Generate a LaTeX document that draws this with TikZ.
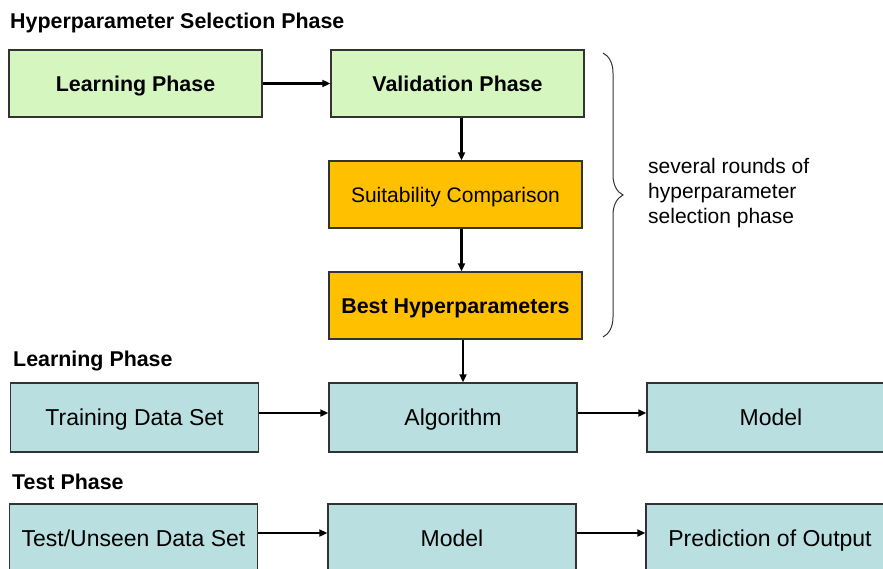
\documentclass[tikz,border=0pt]{standalone}
\usepackage{fontspec}
\setmainfont{Liberation Sans}
\usetikzlibrary{arrows.meta,decorations.pathreplacing}

\definecolor{boxgreen}{RGB}{214,246,192}
\definecolor{boxgold}{RGB}{255,192,0}
\definecolor{boxblue}{RGB}{185,223,225}

\begin{document}
\begin{tikzpicture}[x=1pt,y=-1pt,
  box/.style={draw=black!80,line width=1.4pt,inner sep=0pt,minimum width=253pt,minimum height=67pt,text depth=0pt},
  greenbox/.style={box,fill=boxgreen,text height=15.3pt,font=\fontsize{21.4}{25}\selectfont\bfseries},
  goldbox/.style={box,fill=boxgold,text height=15pt,font=\fontsize{21}{25}\selectfont},
  bluebox/.style={box,fill=boxblue,minimum width=248pt,minimum height=69pt,text height=16.5pt,font=\fontsize{23}{27}\selectfont},
  phase/.style={anchor=base west,inner sep=0pt,font=\fontsize{21.4}{25}\selectfont\bfseries},
  arr/.style={line width=2.2pt,-{Triangle[length=8pt,width=7pt]}}]
\useasboundingbox (0,0) rectangle (883,568);
\clip (0,0) rectangle (883,568);

% hyperparameter selection phase
\node[phase] (hsp) at (10,28) {Hyperparameter Selection Phase};
\node[greenbox] (lp) at (135.5,83.5) {Learning Phase};
\node[greenbox] (vp) at (457.5,83.5) {Validation Phase};
\node[goldbox] (sc) at (455.5,194.5) {Suitability Comparison};
\node[goldbox,text height=15.3pt,font=\fontsize{21.4}{25}\selectfont\bfseries] (bh) at (455.5,305.5) {Best Hyperparameters};
\draw[arr] (lp) -- (vp);
\draw[arr] ([xshift=4pt]vp.south) -- ([xshift=4pt]vp.south |- sc.north);
\draw[arr] ([xshift=6pt]sc.south) -- ([xshift=6pt]sc.south |- bh.north);

% brace with remark
\coordinate (btop) at (603,53);
\coordinate (bbot) at (603,337);
\draw[black!80,line width=1pt,decorate,decoration={brace,amplitude=20pt}] (btop) -- (bbot);
\node[anchor=west,align=left,inner sep=0pt,font=\fontsize{21}{25}\selectfont] (rounds) at (648,193)
  {several rounds of\\hyperparameter\\selection phase};

% learning phase
\node[phase] (lph) at (13,366) {Learning Phase};
\node[bluebox] (tds) at (134.5,417.5) {Training Data Set};
\node[bluebox] (alg) at (453,417.5) {Algorithm};
\node[bluebox] (mdl) at (771,417.5) {Model};
\draw[arr] ([xshift=7.5pt]bh.south) -- ([xshift=7.5pt]bh.south |- alg.north);
\draw[arr] ([yshift=4.5pt]tds.east) -- ([yshift=4.5pt]alg.west);
\draw[arr] ([yshift=4.5pt]alg.east) -- ([yshift=4.5pt]mdl.west);

% test phase
\node[phase] (tph) at (12,489) {Test Phase};
\node[bluebox] (usd) at (133.5,538.5) {Test/Unseen Data Set};
\node[bluebox] (tmdl) at (452,538.5) {Model};
\node[bluebox] (pred) at (770,538.5) {Prediction of Output};
\draw[arr] ([yshift=5.5pt]usd.east) -- ([yshift=5.5pt]tmdl.west);
\draw[arr] ([yshift=5.5pt]tmdl.east) -- ([yshift=5.5pt]pred.west);
\end{tikzpicture}
\end{document}
